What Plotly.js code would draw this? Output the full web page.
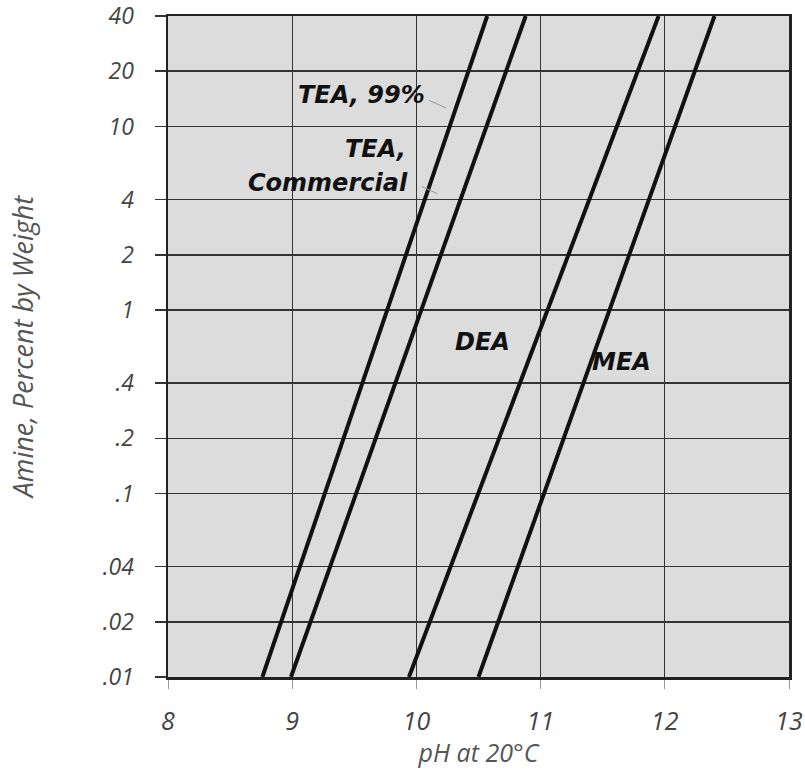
<!DOCTYPE html>
<html>
<head>
<meta charset="utf-8">
<script src="https://cdn.plot.ly/plotly-3.0.1.min.js"></script>
<style>html,body{margin:0;padding:0;background:#fff;}#chart{width:805px;height:769px;}</style>
</head>
<body>
<div id="chart"></div>
<script>
// Data (pH at 20°C vs amine wt%)
const amineLevels = [0.01, 40];
const phTEA99 = [8.76, 10.57];
const phTEAComm = [8.99, 10.88];
const phDEA = [9.94, 11.95];
const phMEA = [10.50, 12.40];
const yTickVals = [0.01, 0.02, 0.04, 0.1, 0.2, 0.4, 1, 2, 4, 10, 20, 40];
const yTickText = ['.01', '.02', '.04', '.1', '.2', '.4', '1', '2', '4', '10', '20', '40'];
const xTickVals = [8, 9, 10, 11, 12, 13];

const lineStyle = {color: '#111', width: 4};
const traces = [
  {x: phTEA99, y: amineLevels, name: 'TEA, 99%'},
  {x: phTEAComm, y: amineLevels, name: 'TEA, Commercial'},
  {x: phDEA, y: amineLevels, name: 'DEA'},
  {x: phMEA, y: amineLevels, name: 'MEA'}
].map(t => Object.assign(t, {type: 'scatter', mode: 'lines', line: lineStyle, hoverinfo: 'skip'}));

const labelFont = {family: 'DejaVu Sans', size: 24, color: '#111', weight: 'bold', style: 'italic'};
const tickFont = {family: 'Open Sans', size: 23, color: '#444', style: 'italic'};
const titleFont = {family: 'Open Sans', size: 25, color: '#555', style: 'italic'};

const lbl = (x, y, text, xanchor) => ({x: x, y: Math.log10(y), text: text, showarrow: false, font: labelFont, xanchor: xanchor, yanchor: 'middle'});
const leader = (x, y, ax, ay) => ({x: x, y: Math.log10(y), ax: ax, ay: Math.log10(ay), axref: 'x', ayref: 'y', text: '', showarrow: true, arrowhead: 0, arrowwidth: 1, arrowcolor: '#999'});

const layout = {
  width: 805, height: 769,
  margin: {l: 168, r: 16, t: 16, b: 92},
  paper_bgcolor: '#ffffff',
  plot_bgcolor: '#dcdcdc',
  showlegend: false,
  xaxis: {
    range: [8, 13], tickvals: xTickVals, ticktext: xTickVals.map(String),
    showgrid: true, gridcolor: '#333', gridwidth: 1,
    showline: true, linecolor: '#222', linewidth: 2.5, mirror: true,
    ticks: 'outside', ticklen: 9, tickcolor: '#999', tickwidth: 1,
    ticklabelstandoff: 11, ticklabeloverflow: 'allow',
    tickfont: Object.assign({}, tickFont, {size: 25}),
    zeroline: false,
    title: {text: 'pH at 20°C', font: titleFont, standoff: 0}
  },
  yaxis: {
    type: 'log', range: [Math.log10(0.01), Math.log10(40)],
    tickvals: yTickVals, ticktext: yTickText,
    showgrid: true, gridcolor: '#333', gridwidth: 1.5,
    showline: true, linecolor: '#222', linewidth: 2.5, mirror: true,
    ticks: 'outside', ticklen: 11, tickcolor: '#333', tickwidth: 1.5,
    ticklabelstandoff: 16, ticklabeloverflow: 'allow',
    tickfont: tickFont,
    zeroline: false,
    title: {text: 'Amine, Percent by Weight', font: Object.assign({}, titleFont, {size: 27}), standoff: 62}
  },
  annotations: [
    lbl(9.555, 14.9, 'TEA, 99%', 'center'),
    lbl(9.93, 7.5, 'TEA,', 'right'),
    lbl(9.95, 4.94, 'Commercial', 'right'),
    lbl(10.536, 0.668, 'DEA', 'center'),
    lbl(11.655, 0.52, 'MEA', 'center'),
    leader(10.24, 12.6, 10.09, 14.0),
    leader(10.17, 4.3, 10.03, 4.75)
  ]
};

Plotly.newPlot('chart', traces, layout, {displayModeBar: false, staticPlot: true});
</script>
</body>
</html>
